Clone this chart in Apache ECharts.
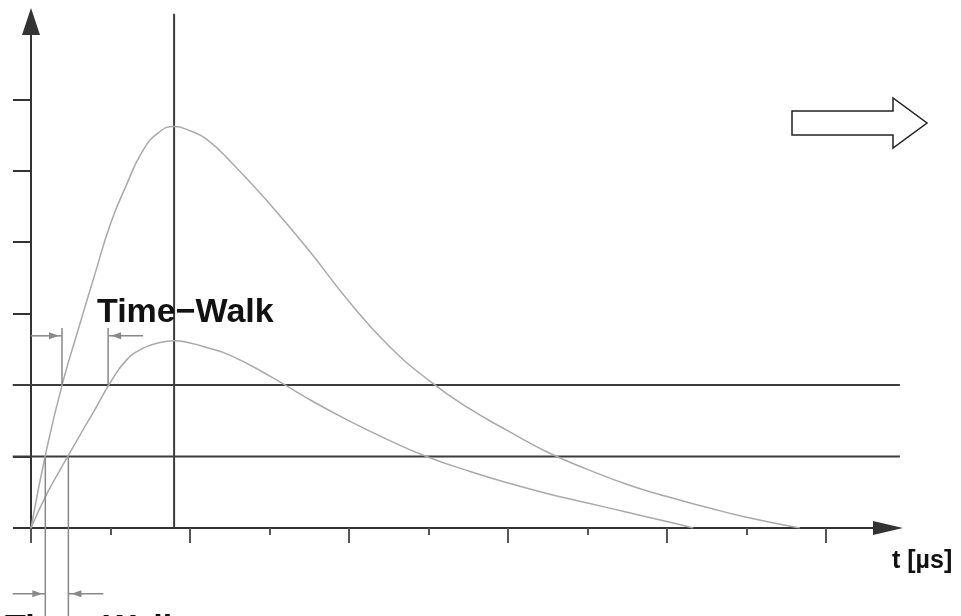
<!DOCTYPE html>
<html>
<head>
<meta charset="utf-8">
<script src="https://cdn.jsdelivr.net/npm/echarts@6/dist/echarts.min.js"></script>
<style>
  html, body { margin: 0; padding: 0; background: #ffffff; }
  #chart { width: 961px; height: 616px; }
</style>
</head>
<body>
<div id="chart"></div>
<script>
// Shaper output for a large and a small pulse (time in µs, amplitude in threshold units)
const largePulseT = [0, 0.2, 0.4, 0.6, 0.8, 1.0, 1.2, 1.4, 1.6, 1.8, 2.0, 2.2, 2.5, 3.0, 3.5, 4.0, 4.5, 5.0, 5.5, 6.0, 6.5, 7.0, 7.5, 8.0, 8.5, 9.0, 9.67];
const largePulseA = [0, 1.12, 2.04, 2.80, 3.54, 4.26, 4.80, 5.27, 5.53, 5.62, 5.56, 5.45, 5.14, 4.54, 3.88, 3.17, 2.55, 2.07, 1.68, 1.36, 1.06, 0.82, 0.61, 0.44, 0.29, 0.15, 0];
const smallPulseT = [0, 0.2, 0.4, 0.6, 0.8, 1.0, 1.2, 1.4, 1.6, 1.8, 2.0, 2.2, 2.5, 3.0, 3.5, 4.0, 4.5, 5.0, 5.5, 6.0, 6.5, 7.0, 7.5, 8.0, 8.33];
const smallPulseA = [0, 0.48, 0.88, 1.27, 1.65, 2.04, 2.35, 2.51, 2.59, 2.62, 2.59, 2.53, 2.42, 2.13, 1.80, 1.50, 1.23, 0.99, 0.80, 0.63, 0.48, 0.35, 0.22, 0.09, 0];

// Discriminator thresholds and the common peaking time
const thresholds = [1, 2];
const thresholdSpan = [-0.23, 10.93];
const peakTime = 1.8;
const peakLineTop = 7.2;

// Axis ranges and ticks
const xRange = [0, 10.78];
const yRange = [0, 7.09];
const majorTicks = [0, 2, 4, 6, 8, 10];
const minorTicks = [1, 3, 5, 7, 9];
const yTicks = [0, 1, 2, 3, 4, 5, 6];

// Threshold crossing times of the two pulses
const crossHigh = [0.39, 0.97];   // threshold 2: large, small
const crossLow = [0.18, 0.47];    // threshold 1: large, small

// Reference lines: [x1, y1, x2, y2]
const refSegments = thresholds
  .map(th => [thresholdSpan[0], th, thresholdSpan[1], th])
  .concat([[peakTime, 0, peakTime, peakLineTop]]);

// Time-walk markers: [x1, y1, x2, y2, arrowhead at (x2, y2)]
const walkSegments = [
  [crossHigh[0], 2, crossHigh[0], 2.8, 0],
  [crossHigh[1], 2, crossHigh[1], 2.8, 0],
  [0, 2.69, crossHigh[0], 2.69, 1],
  [1.41, 2.69, crossHigh[1], 2.69, 1],
  [crossLow[0], 1, crossLow[0], -1.25, 0],
  [crossLow[1], 1, crossLow[1], -1.25, 0],
  [-0.23, -0.92, crossLow[0], -0.92, 1],
  [0.91, -0.92, crossLow[1], -0.92, 1]
];

const zip = (xs, ys) => xs.map((x, i) => [x, ys[i]]);

const axisColor = '#333333';
const refColor = '#3c3c3c';
const curveColor = '#a9a9a9';
const markColor = '#888888';

// Draws each data row as a straight segment, optionally ending in a filled arrowhead
function segmentRenderer(color, width) {
  return function (params, api) {
    const p1 = api.coord([api.value(0), api.value(1)]);
    const p2 = api.coord([api.value(2), api.value(3)]);
    const children = [{
      type: 'line',
      shape: { x1: p1[0], y1: p1[1], x2: p2[0], y2: p2[1] },
      style: { stroke: color, lineWidth: width }
    }];
    if (api.value(4)) {
      const ang = Math.atan2(p2[1] - p1[1], p2[0] - p1[0]);
      const tipX = p2[0] - 3 * Math.cos(ang), tipY = p2[1] - 3 * Math.sin(ang);
      const len = 10, half = 3.5;
      const bx = tipX - len * Math.cos(ang), by = tipY - len * Math.sin(ang);
      const nx = -Math.sin(ang) * half, ny = Math.cos(ang) * half;
      children.push({
        type: 'polygon',
        shape: { points: [[tipX, tipY], [bx + nx, by + ny], [bx - nx, by - ny]] },
        style: { fill: color }
      });
    }
    return { type: 'group', children: children };
  };
}

const hiddenAxisParts = { axisLabel: { show: false }, splitLine: { show: false } };
const textFont = '"Liberation Sans", Arial, sans-serif';

const chart = echarts.init(document.getElementById('chart'), null, { renderer: 'canvas' });

chart.setOption({
  animation: false,
  backgroundColor: '#ffffff',
  grid: { left: 31, right: 73, top: 21.5, bottom: 88, containLabel: false },
  xAxis: [
    Object.assign({
      type: 'value', min: xRange[0], max: xRange[1], position: 'bottom',
      axisLine: {
        show: true, onZero: false,
        lineStyle: { color: axisColor, width: 2 },
        symbol: ['none', 'triangle'], symbolSize: [14, 30]
      },
      axisTick: { show: true, customValues: majorTicks, length: 15, lineStyle: { color: '#555', width: 2 } }
    }, hiddenAxisParts),
    Object.assign({
      type: 'value', min: xRange[0], max: xRange[1], position: 'bottom', offset: 0,
      axisLine: { show: false },
      axisTick: { show: true, customValues: minorTicks, length: 7, lineStyle: { color: '#555', width: 2 } }
    }, hiddenAxisParts)
  ],
  yAxis: Object.assign({
    type: 'value', min: yRange[0], max: yRange[1],
    axisLine: {
      show: true, onZero: false,
      lineStyle: { color: axisColor, width: 2 },
      symbol: ['none', 'triangle'], symbolSize: [18, 27]
    },
    axisTick: { show: true, customValues: yTicks, length: 18, lineStyle: { color: axisColor, width: 2 } }
  }, hiddenAxisParts),
  series: [
    {
      type: 'line', name: 'large', data: zip(largePulseT, largePulseA),
      smooth: 0.5, showSymbol: false, symbol: 'none', silent: true,
      lineStyle: { color: curveColor, width: 1.5 }, z: 3
    },
    {
      type: 'line', name: 'small', data: zip(smallPulseT, smallPulseA),
      smooth: 0.5, showSymbol: false, symbol: 'none', silent: true,
      lineStyle: { color: curveColor, width: 1.5 }, z: 3
    },
    {
      type: 'custom', data: refSegments, clip: false, silent: true, z: 2,
      encode: { x: [0, 2], y: [1, 3] },
      renderItem: segmentRenderer(refColor, 2)
    },
    {
      type: 'custom', data: walkSegments, clip: false, silent: true, z: 4,
      encode: { x: [0, 2], y: [1, 3] },
      renderItem: segmentRenderer(markColor, 1.5)
    }
  ],
  graphic: [
    {
      type: 'text', left: 97, top: 296, z: 10,
      style: { text: 'Time\u2212Walk', font: 'bold 34px ' + textFont, fill: '#111' }
    },
    {
      type: 'text', left: 5, top: 612, z: 10,
      style: { text: 'Time\u2212Walk', font: 'bold 34px ' + textFont, fill: '#111' }
    },
    {
      type: 'text', left: 892, top: 549, z: 10,
      style: { text: 't [\u00b5s]', font: 'bold 25px ' + textFont, fill: '#111' }
    },
    {
      type: 'polygon', z: 10,
      shape: { points: [[792, 111], [893, 111], [893, 98], [927, 123], [893, 148], [893, 135], [792, 135]] },
      style: { fill: '#ffffff', stroke: '#222', lineWidth: 1.5 }
    }
  ]
});
</script>
</body>
</html>
